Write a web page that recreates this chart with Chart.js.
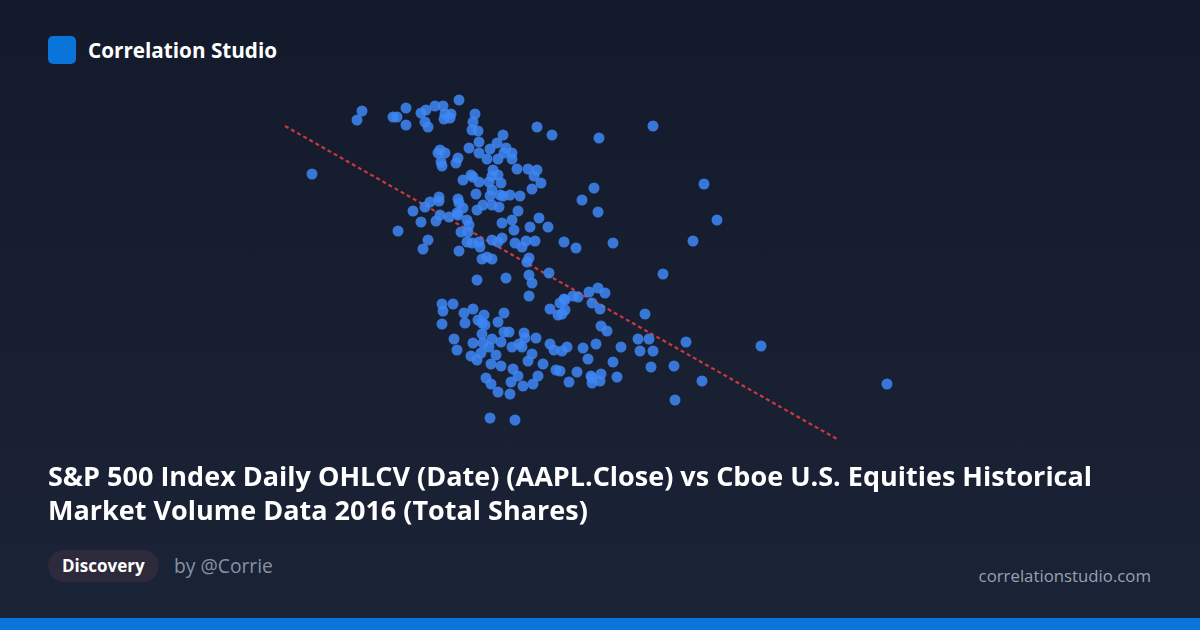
<!DOCTYPE html>
<html>
<head>
<meta charset="utf-8">
<script src="https://cdn.jsdelivr.net/npm/chart.js@4/dist/chart.umd.min.js"></script>
<style>
    html, body { margin: 0; padding: 0; }
    body { width: 1200px; height: 630px; overflow: hidden; font-family: "Open Sans", "Noto Sans", sans-serif; }
    .card {
        position: relative; width: 1200px; height: 630px;
        background: linear-gradient(180deg, #131a2b 0%, #1b2336 100%);
        color: #fff;
    }
    .logo { position: absolute; left: 48px; top: 36px; width: 28px; height: 28px; border-radius: 5px; background: #0a74da; }
    .brand { position: absolute; left: 88px; top: 35px; font-size: 20.7px; font-weight: 700; line-height: 30px; }
    .chart-box { position: absolute; left: 250px; top: 80px; width: 680px; height: 380px; }
    .title { position: absolute; left: 48px; top: 459px; width: 1090px; font-size: 27px; font-weight: 700; line-height: 34px; }
    .badge { position: absolute; left: 48px; top: 550px; height: 32px; padding: 0 14px; border-radius: 16px; background: #2d2b3b; font-size: 17px; font-weight: 700; line-height: 32px; }
    .author { position: absolute; left: 174px; top: 552px; font-size: 19.3px; color: #8791a5; line-height: 28px; }
    .site { position: absolute; right: 49px; top: 563px; font-size: 16.8px; color: #98a1b2; line-height: 26px; }
    .bar { position: absolute; left: 0; bottom: 0; width: 1200px; height: 12px; background: #0a74da; }
</style>
</head>
<body>
<div class="card">
    <div class="logo"></div>
    <div class="brand">Correlation Studio</div>
    <div class="chart-box"><canvas id="scatter"></canvas></div>
    <div class="title">S&amp;P 500 Index Daily OHLCV (Date) (AAPL.Close) vs Cboe U.S. Equities Historical Market Volume Data 2016 (Total Shares)</div>
    <div class="badge">Discovery</div>
    <div class="author">by @Corrie</div>
    <div class="site">correlationstudio.com</div>
    <div class="bar"></div>
</div>
<script>
// values (axis units are hidden in the original)
const upperX = [362,357,393,397,406,406,421,426,425,428,312,435,443,445,451,444,450,459,475,473,472,478,537,552,503,479,469,497,490,479,506,504,512,487,498,512,440,445,438,441,442,458,456,517,528,537,534,541,532,463,471,473,479,493,492,498,489,501,492,476,490,500,503,510,520,458,439];
const upperY = [111,120,117,117,108,125,113,110,122,127,174,106,106,114,114,119,118,100,114,122,130,131,127,135,135,142,148,143,149,153,148,153,153,159,159,159,150,153,153,162,166,158,163,169,169,170,176,183,189,180,175,177,182,170,176,175,182,183,190,194,196,195,196,195,196,199,197];

const middleX = [413,425,430,439,421,398,428,423,436,440,449,457,459,458,463,467,469,461,468,477,483,492,499,502,467,472,479,480,492,498,502,459,482,487,492,518,539,512,514,530,548,515,522,526,535,564,576,613,529,527,594,582,598,599,653,704,717,693,549,529,532,477,506,663,529,589,598,605,564,573,578];
const middleY = [211,207,202,201,222,231,240,249,221,215,217,213,203,215,208,220,225,232,232,210,205,205,207,223,242,243,242,247,240,242,238,251,259,257,259,211,218,220,230,227,227,243,247,241,241,242,248,243,258,262,188,200,212,138,126,184,220,241,273,275,283,280,278,274,296,292,288,293,299,296,297];

const lowerX = [442,443,453,464,473,442,465,478,484,482,485,498,504,550,558,560,482,504,509,524,525,536,454,473,483,492,501,489,512,519,522,550,554,457,481,471,496,477,532,528,491,501,513,543,556,486,518,538,565,562,565,592,600,645,601,607,638,649,686,567,562,583,596,621,640,653,588,613,651,674,577,591,601,617,560,491,498,511,510,523,533,490,515,569,592,592,600,702,675,887,761];
const lowerY = [304,311,304,313,309,324,323,320,315,323,325,322,313,309,315,303,334,332,332,333,338,338,339,343,343,339,342,347,347,344,347,344,350,350,353,356,355,360,354,361,364,366,369,364,370,378,376,376,300,314,310,303,309,314,326,331,339,339,342,347,351,348,344,347,351,351,359,362,367,366,372,376,374,377,371,384,392,382,394,386,384,418,420,382,378,383,381,381,400,384,346];

// least-squares fit endpoints
const trendX = [285, 837];
const trendY = [126, 439];

function toPoints(xs, ys) {
    return xs.map((x, i) => ({ x: x, y: ys[i] }));
}

const pointColor = 'rgba(62, 135, 245, 0.85)';
const allPoints = toPoints(upperX, upperY)
    .concat(toPoints(middleX, middleY))
    .concat(toPoints(lowerX, lowerY));

const ctx = document.getElementById('scatter').getContext('2d');
new Chart(ctx, {
    type: 'scatter',
    data: {
        datasets: [{
            type: 'line',
            label: 'Trend',
            data: toPoints(trendX, trendY),
            borderColor: 'rgba(222, 60, 64, 0.9)',
            borderWidth: 2.2,
            borderDash: [4, 3],
            pointRadius: 0,
            fill: false,
            order: 2
        }, {
            label: 'Days',
            data: allPoints,
            backgroundColor: pointColor,
            borderWidth: 0,
            pointRadius: 5.5,
            pointHoverRadius: 5.5,
            order: 1
        }]
    },
    options: {
        responsive: true,
        maintainAspectRatio: false,
        animation: false,
        layout: { padding: 0, autoPadding: false },
        scales: {
            x: { type: 'linear', display: false, min: 250, max: 930 },
            y: { type: 'linear', display: false, min: 80, max: 460, reverse: true }
        },
        plugins: {
            legend: { display: false },
            tooltip: { enabled: false }
        }
    }
});
</script>
</body>
</html>
